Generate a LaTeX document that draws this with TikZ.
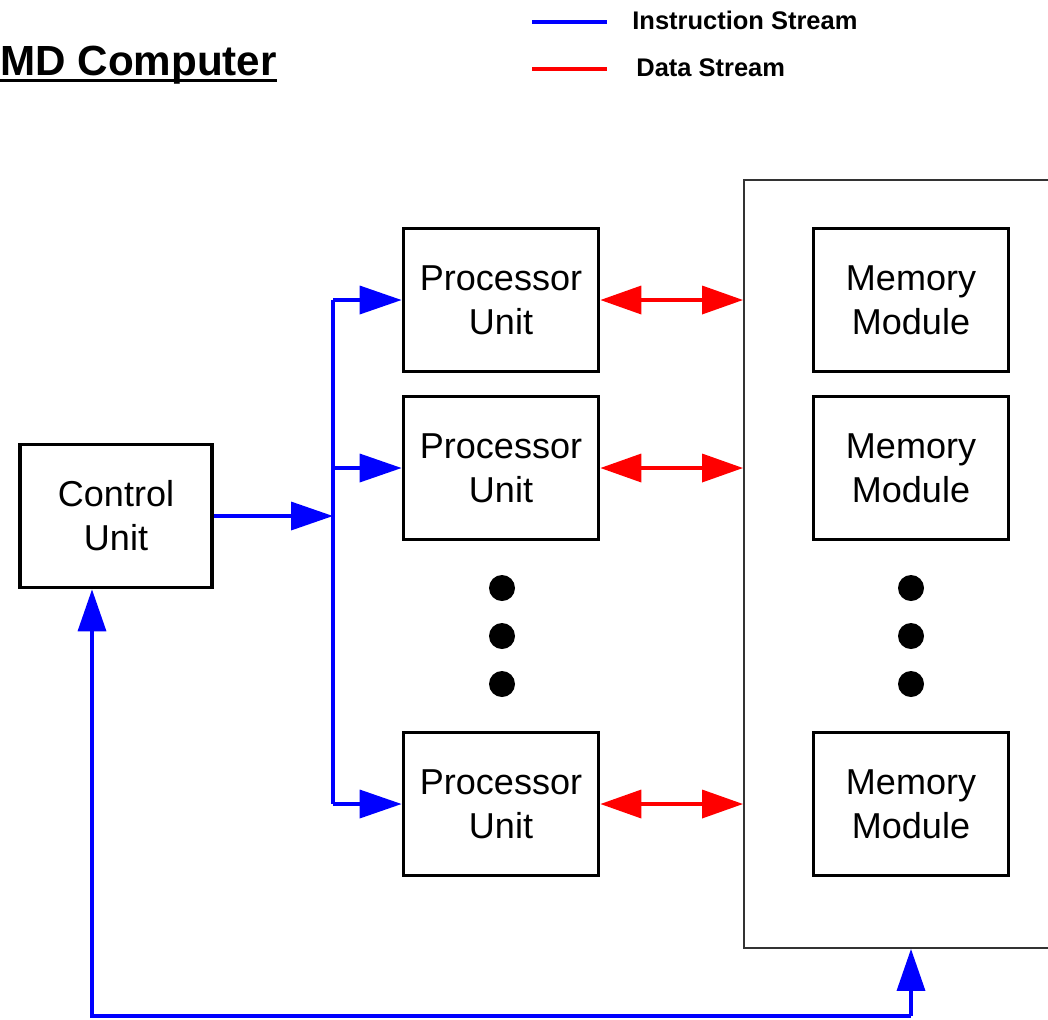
\documentclass[tikz,border=0pt]{standalone}
\usepackage{fontspec}
\setmainfont{Liberation Sans}
\usetikzlibrary{arrows.meta}
\usetikzlibrary{positioning}

\tikzset{
  unitbox/.style={draw, rectangle, line width=2.1pt, minimum width=3.9cm, minimum height=2.86cm,
    inner sep=0pt, align=center, font=\fontsize{20.5}{25}\selectfont},
  iline/.style={draw=blue, line width=2pt},
  dline/.style={draw=red, line width=2pt},
  istream/.style={iline, -{Triangle[length=0.84cm, width=0.56cm]}},
  dstream/.style={dline, {Triangle[length=0.82cm, width=0.56cm]}-{Triangle[length=0.82cm, width=0.56cm]}},
  legendtext/.style={anchor=west, inner sep=0pt, font=\fontsize{14.5}{17}\selectfont\bfseries},
}

\begin{document}
\begin{tikzpicture}[x=0.02cm, y=-0.02cm]
  \useasboundingbox (0,0) rectangle (1048,1019);
  \clip (0,0) rectangle (1048,1019);

  % title
  \node[anchor=base west, inner sep=0pt, font=\fontsize{24}{28}\selectfont\bfseries] (title) at (0,75) {MD Computer};
  \draw[line width=1.7pt] ([yshift=-3pt]title.base west) -- ([yshift=-3pt]title.base east);

  % legend
  \node[legendtext] (ilabel) at (632,20) {Instruction Stream};
  \node[legendtext] (dlabel) at (636,68) {Data Stream};
  \coordinate (ileg) at (532,22);
  \coordinate (dleg) at (532,69);
  \draw[iline, line width=2.4pt] (ileg) -- ++(75,0);
  \draw[dline, line width=2.4pt] (dleg) -- ++(75,0);

  % memory
  \node[draw=black!80, line width=1.1pt, minimum width=6.68cm, minimum height=15.36cm] (mem) at (911,564) {};
  \node[unitbox] (mm1) at (911,300) {Memory\\Module};
  \node[unitbox] (mm2) at (911,468) {Memory\\Module};
  \node[unitbox] (mm3) at (911,804) {Memory\\Module};

  % control and processors
  \node[unitbox, minimum width=3.84cm] (cu) at (116,516) {Control\\Unit};
  \node[unitbox] (pu1) at (501,300) {Processor\\Unit};
  \node[unitbox] (pu2) at (501,468) {Processor\\Unit};
  \node[unitbox] (pu3) at (501,804) {Processor\\Unit};

  % dots
  \foreach \y in {588,636,684} {
    \fill (502,\y) circle (0.26cm);
    \fill (911,\y) circle (0.26cm);
  }

  % instruction bus
  \coordinate (bus) at (333,516);
  \draw[istream] (cu.east) -- (bus);
  \draw[iline] (bus |- pu1.west) -- (bus |- pu3.west);
  \foreach \p in {pu1,pu2,pu3}
    \draw[istream] (bus |- \p.west) -- (\p.west);

  % data streams
  \foreach \p in {pu1,pu2,pu3}
    \draw[dstream] (\p.east) -- (\p.east -| mem.west);

  % feedback
  \coordinate (low) at (92,1016);
  \draw[istream, line join=miter] (low -| mem.south) -- (low) -- (low |- cu.south);
  \draw[istream] (low -| mem.south) -- (mem.south);
\end{tikzpicture}
\end{document}
